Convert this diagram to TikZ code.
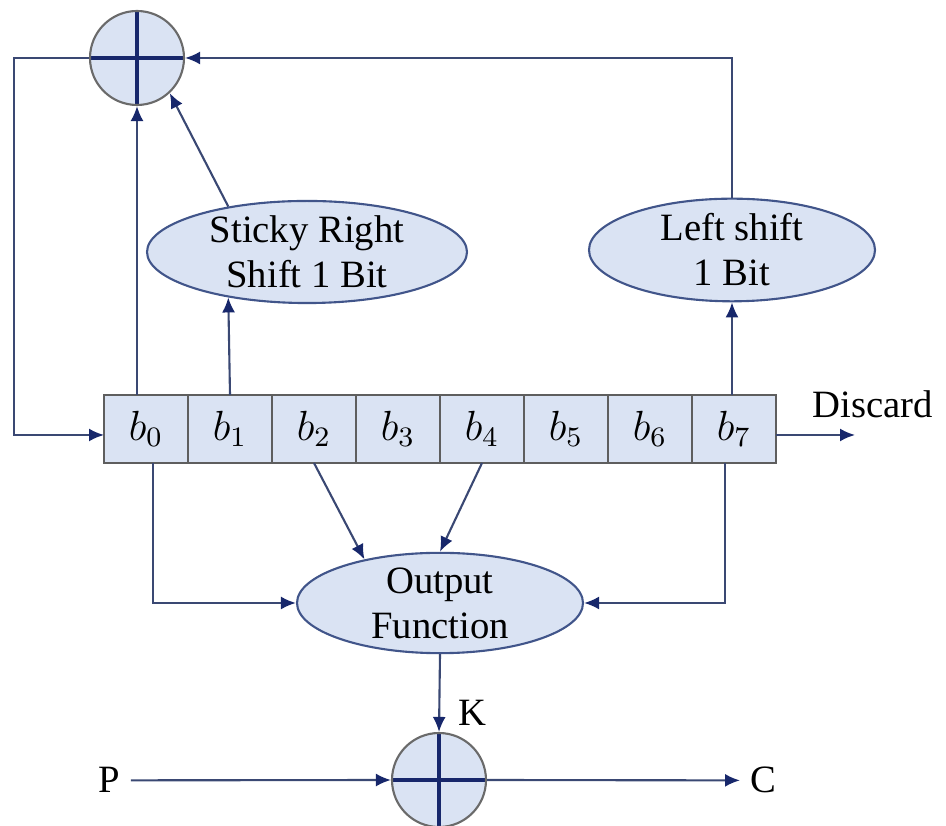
\documentclass[tikz,border=0pt]{standalone}
\usepackage{fontspec}
\setmainfont{Liberation Serif}
\usetikzlibrary{shapes.geometric,arrows.meta}

\definecolor{boxfill}{HTML}{DAE3F3}
\definecolor{wire}{HTML}{3A4873}
\definecolor{tipblue}{HTML}{17276B}
\definecolor{ovalline}{HTML}{41558A}
\definecolor{rimgray}{HTML}{6A6A6A}
\definecolor{cellline}{HTML}{5E5E5E}

\tikzset{
    cell/.style={draw=cellline, fill=boxfill, line width=0.6pt, minimum width=8.4mm,
        minimum height=6.8mm, inner sep=0pt, outer sep=0pt, font=\fontsize{12}{14}\selectfont},
    oval/.style={ellipse, draw=ovalline, fill=boxfill, line width=0.6pt, align=center,
        inner xsep=0pt, inner ysep=0pt},
    xorc/.style={circle, draw=rimgray, fill=boxfill, line width=0.6pt, minimum size=9.4mm,
        inner sep=0pt, path picture={
            \draw[tipblue, line width=1.1pt]
                (path picture bounding box.north) -- (path picture bounding box.south)
                (path picture bounding box.west) -- (path picture bounding box.east);}},
    wireline/.style={draw=wire, line width=0.6pt, -{Latex[length=1.5mm,width=1.3mm,color=tipblue]}},
    lbl/.style={inner sep=1mm, anchor=base west}
}

\begin{document}
\begin{tikzpicture}[x=0.1mm, y=-0.1mm, font=\fontsize{11}{12.8}\selectfont]

        % Frame
        \useasboundingbox (0,0) rectangle (946,826);

        % Register
        \foreach \i in {0,...,7} {
            \node[cell] (b\i) at (146+84*\i, 429) {$b_{\i}$};
        }

        % XOR units
        \node[xorc] (xtop) at (137,58) {};
        \node[xorc] (xbot) at (439,780) {};

        % Blocks
        \node[oval, minimum width=32mm] (sticky) at (307,252) {Sticky Right\\Shift 1 Bit};
        \node[oval, minimum width=28.6mm] (lshift) at (732,250) {Left shift\\1 Bit};
        \node[oval, minimum width=28.6mm] (outf) at (440,603) {Output\\Function};

        % Labels
        \node[lbl] (discard) at (802,418) {Discard};
        \node[lbl] (plain) at (88,793) {P};
        \node[lbl] (cipher) at (740,793) {C};
        \node[lbl] (key) at (448,726) {K};

        \coordinate (fb) at (14,58);
        \coordinate (drop) at (855,435);

        % Feedback loop
        \draw[wireline] (xtop.west) -- (fb) |- ([yshift=-0.6mm]b0.west);
        \draw[wireline] (xtop |- b0.north) -- (xtop.south);
        \draw[wireline] (b1.north) -- (sticky.210);
        \draw[wireline] (sticky.150) -- (xtop.-47);
        \draw[wireline] (lshift.south |- b7.north) -- (lshift.south);
        \draw[wireline] (lshift.north) |- (xtop.east);
        \draw[wireline] (drop -| b7.east) -- (drop);

        % Output function taps
        \draw[wireline] ([xshift=0.7mm]b0.south) |- (outf.west);
        \draw[wireline] ([xshift=-0.9mm]b7.south) |- (outf.east);
        \draw[wireline] (b2.south) -- (outf.150);
        \draw[wireline] (b4.south) -- (outf.north);

        % Keystream
        \draw[wireline] (outf.south) -- (xbot.north);
        \draw[wireline] (plain.east) -- (xbot.west);
        \draw[wireline] (xbot.east) -- (cipher.west);

\end{tikzpicture}
\end{document}
